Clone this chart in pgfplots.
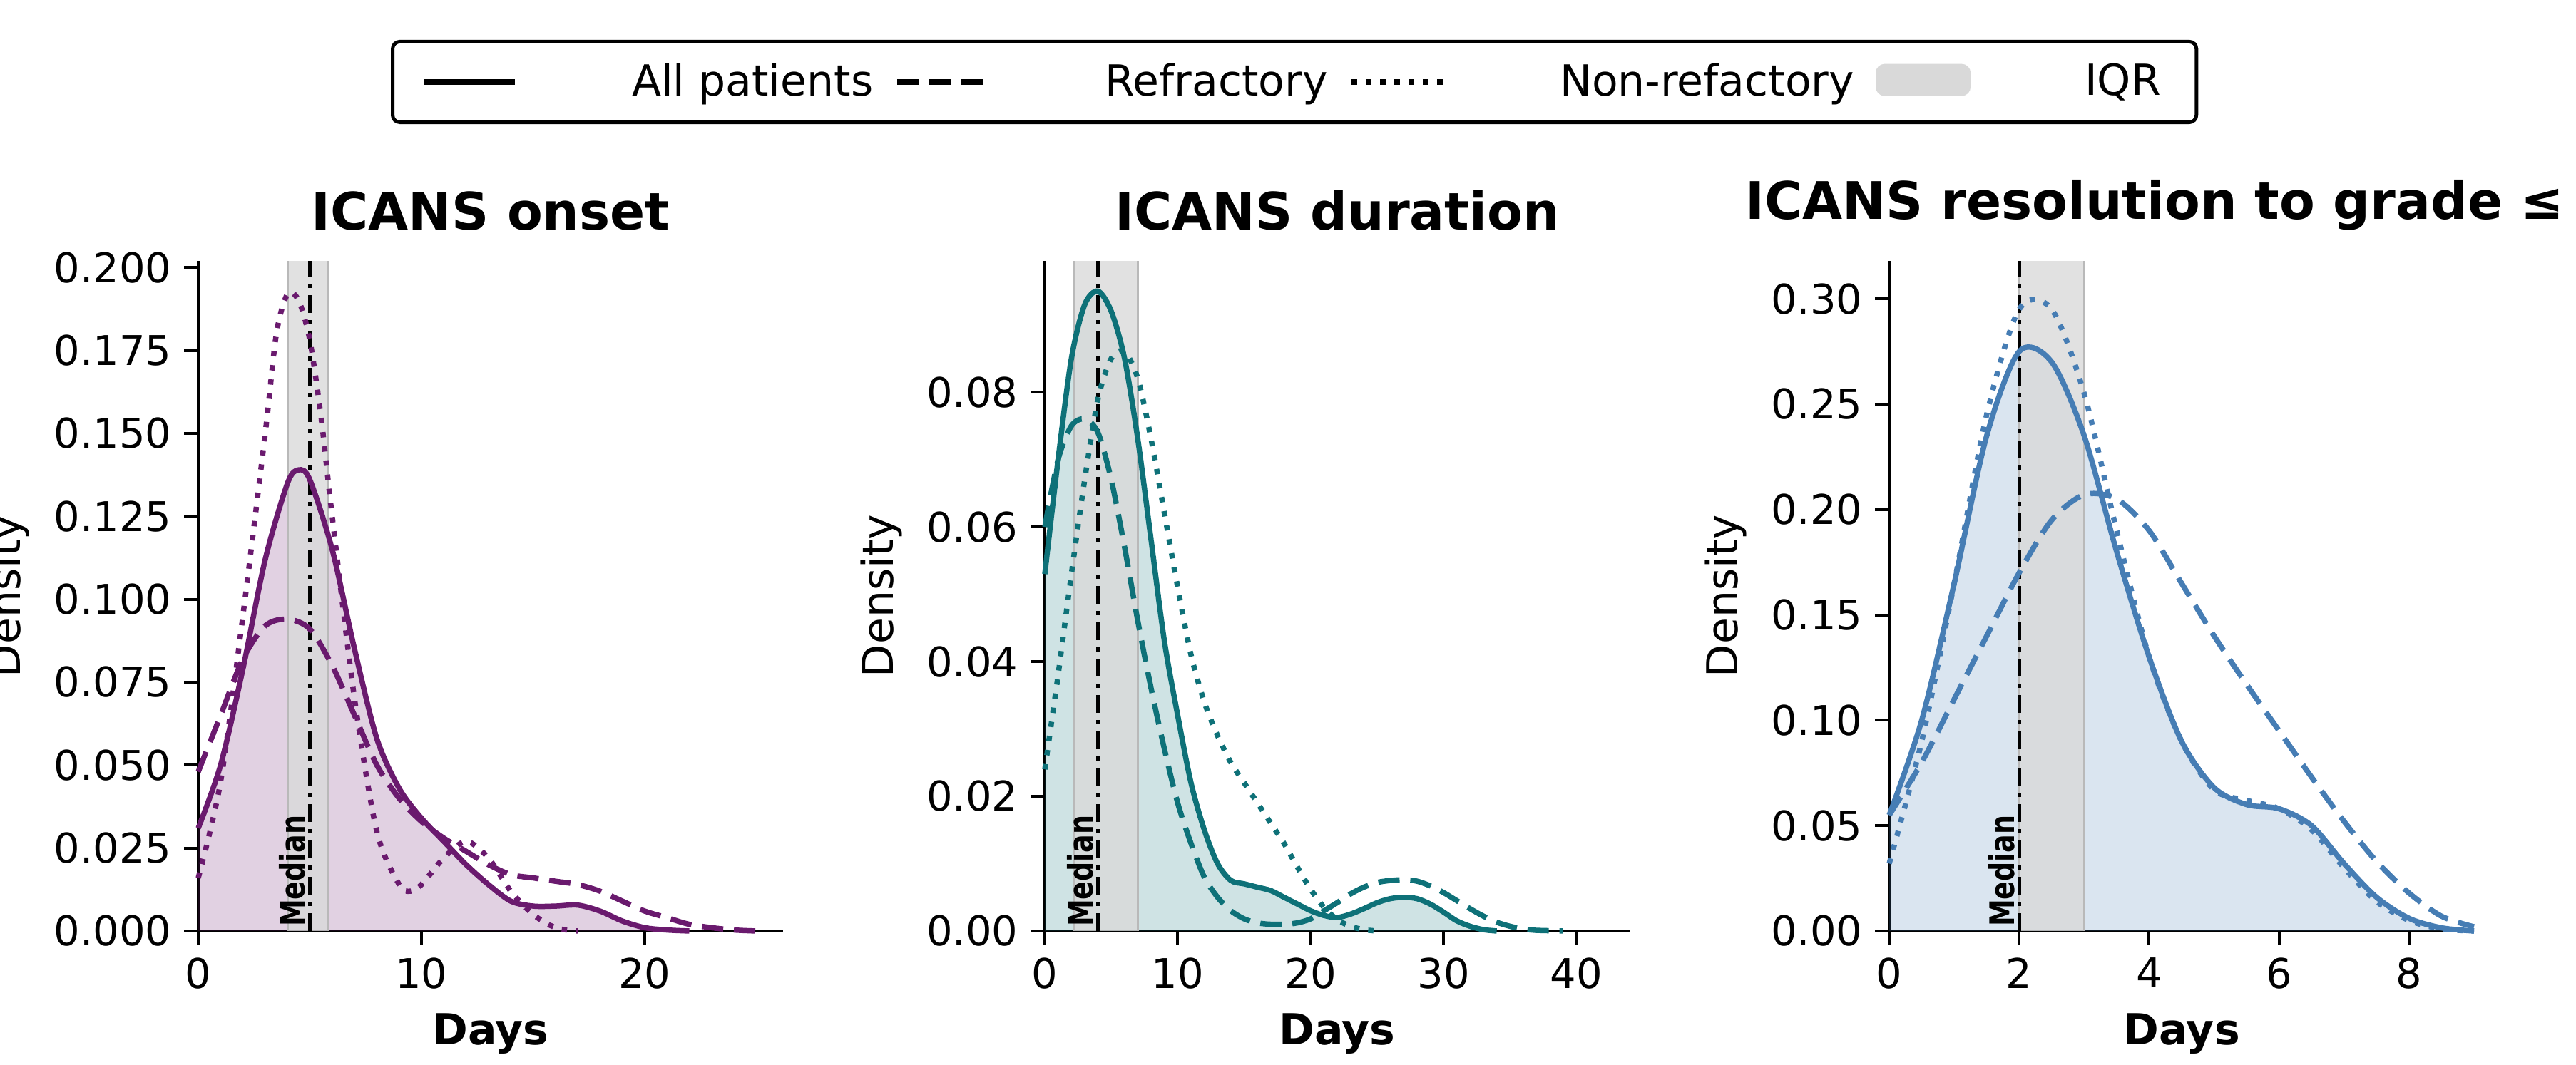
\documentclass[border=0pt]{standalone}
\usepackage{pgfplots}
\pgfplotsset{compat=1.18}
\usepackage{fontspec}
\setmainfont{DejaVu Sans}
\definecolor{cA}{RGB}{106,26,110}
\definecolor{cB}{RGB}{14,113,120}
\definecolor{cC}{RGB}{70,125,180}
\pgfplotsset{
  base/.style={scale only axis, width=164pt, height=188pt, anchor=south west,
    axis x line*=bottom, axis y line*=left, tick align=outside,
    axis line style={line width=0.9pt}, major tick length=4pt,
    tick style={black, line width=0.8pt},
    /pgf/number format/assume math mode=true,
    ticklabel style={font=\fontsize{11.5}{13}\selectfont},
    label style={font=\fontsize{12}{14}\selectfont},
    title style={font=\fontsize{14.5}{16}\selectfont\bfseries, yshift=-1pt},
    xlabel={\textbf{Days}}, ylabel={Density}, ymin=0, xmin=0,
    scaled y ticks=false, clip=false},
}
\newcommand{\med}[4]{% median, q1, q3, ymax
  \fill[gray!30, opacity=0.8] (axis cs:#2,0) rectangle (axis cs:#3,#4);
  \draw[gray!55, line width=0.6pt] (axis cs:#2,0) -- (axis cs:#2,#4) (axis cs:#3,0) -- (axis cs:#3,#4);
  \draw[black, line width=1pt, dash pattern=on 5pt off 2pt on 1.2pt off 2pt] (axis cs:#1,0) -- (axis cs:#1,#4);
  \node[rotate=90, anchor=south west, inner sep=1pt, font=\fontsize{9.5}{10}\selectfont\bfseries] at (axis cs:#1,0) {\scalebox{0.8}[1]{Median}};}
\begin{document}
\begin{tikzpicture}
% Panel 1
\begin{axis}[base, at={(55.6pt,0)}, xmax=26.2, ymax=0.202, title={ICANS onset},
  ytick={0,0.025,...,0.2}, yticklabel style={/pgf/number format/.cd,fixed,fixed zerofill,precision=3}, xtick={0,10,20}]
\addplot[fill=cA, fill opacity=0.2, draw=none, smooth] coordinates {(0,0.031)(1,0.05)(2,0.079)(3,0.112)(4,0.135)(4.5,0.139)(5,0.136)(6,0.115)(7,0.085)(8,0.058)(9,0.043)(10,0.034)(11,0.027)(12,0.020)(13,0.014)(14,0.009)(15,0.0075)(16,0.0075)(17,0.0078)(18,0.006)(19,0.003)(20,0.001)(21,0.0003)(22,0)} \closedcycle;
\med{5}{4}{5.8}{0.202}
\addplot[cA, line width=1.5pt, smooth] coordinates {(0,0.031)(1,0.05)(2,0.079)(3,0.112)(4,0.135)(4.5,0.139)(5,0.136)(6,0.115)(7,0.085)(8,0.058)(9,0.043)(10,0.034)(11,0.027)(12,0.020)(13,0.014)(14,0.009)(15,0.0075)(16,0.0075)(17,0.0078)(18,0.006)(19,0.003)(20,0.001)(21,0.0003)(22,0)};
\addplot[cA, line width=1.5pt, smooth, dash pattern=on 6pt off 3pt] coordinates {(0,0.048)(1,0.065)(2,0.082)(3,0.092)(4,0.094)(5,0.091)(6,0.08)(7,0.065)(8,0.05)(9,0.04)(10,0.033)(11,0.028)(12,0.024)(13,0.020)(14,0.017)(15,0.016)(16,0.015)(17,0.014)(18,0.012)(19,0.009)(20,0.006)(21,0.004)(22,0.002)(23,0.001)(24,0.0003)(25,0)};
\addplot[cA, line width=1.5pt, smooth, dash pattern=on 1.5pt off 2.5pt] coordinates {(0,0.016)(1,0.045)(2,0.095)(3,0.15)(3.5,0.18)(4,0.192)(4.5,0.19)(5,0.178)(5.5,0.155)(6,0.125)(7,0.07)(8,0.03)(9,0.014)(9.5,0.012)(10,0.014)(11,0.022)(12,0.027)(13,0.022)(14,0.012)(15,0.005)(16,0.001)(17,0)};
\end{axis}
% Panel 2
\begin{axis}[base, at={(293pt,0)}, xmax=44, ymax=0.0995, title={ICANS duration},
  ytick={0,0.02,...,0.081}, yticklabel style={/pgf/number format/.cd,fixed,fixed zerofill,precision=2}, xtick={0,10,20,30,40},
  legend columns=4, legend style={at={(0.427,1.267)}, anchor=center, draw=black, line width=1pt, rounded corners=2pt,
    font=\fontsize{12}{14}\selectfont, /tikz/every even column/.append style={column sep=4pt}, /tikz/every odd column/.append style={column sep=30pt}, inner xsep=8pt, inner ysep=4pt},
  legend image code/.code={\draw[#1] (0cm,0cm) -- (0.9cm,0cm);}]
\addlegendimage{black, line width=1.5pt}
\addlegendimage{black, line width=1.5pt, dash pattern=on 6pt off 3pt}
\addlegendimage{black, line width=1.5pt, dash pattern=on 1.5pt off 2.5pt}
\addlegendimage{legend image code/.code={\fill[gray!30] (0cm,-0.12cm) rectangle (0.9cm,0.16cm);}}
\legend{All patients, Refractory, Non-refactory, IQR}
\addplot[fill=cB, fill opacity=0.2, draw=none, smooth, forget plot] coordinates {(0,0.053)(1,0.07)(2,0.085)(3,0.093)(4,0.095)(5,0.092)(6,0.085)(7,0.073)(8,0.058)(9,0.043)(10,0.032)(11,0.022)(12,0.015)(13,0.010)(14,0.0075)(15,0.007)(16,0.0065)(17,0.006)(18,0.005)(19,0.004)(20,0.003)(21,0.0023)(22,0.002)(23,0.0025)(24,0.0033)(25,0.0042)(26,0.0048)(27,0.005)(28,0.0048)(29,0.004)(30,0.0028)(31,0.0015)(32,0.0007)(33,0.0002)(34,0)} \closedcycle;
\med{4}{2.2}{7}{0.0995}
\addplot[cB, line width=1.5pt, smooth, forget plot] coordinates {(0,0.053)(1,0.07)(2,0.085)(3,0.093)(4,0.095)(5,0.092)(6,0.085)(7,0.073)(8,0.058)(9,0.043)(10,0.032)(11,0.022)(12,0.015)(13,0.010)(14,0.0075)(15,0.007)(16,0.0065)(17,0.006)(18,0.005)(19,0.004)(20,0.003)(21,0.0023)(22,0.002)(23,0.0025)(24,0.0033)(25,0.0042)(26,0.0048)(27,0.005)(28,0.0048)(29,0.004)(30,0.0028)(31,0.0015)(32,0.0007)(33,0.0002)(34,0)};
\addplot[cB, line width=1.5pt, smooth, dash pattern=on 6pt off 3pt, forget plot] coordinates {(0,0.06)(1,0.07)(2,0.075)(3,0.076)(4,0.074)(5,0.067)(6,0.057)(7,0.046)(8,0.036)(9,0.027)(10,0.019)(11,0.013)(12,0.008)(13,0.005)(14,0.003)(15,0.0018)(16,0.0012)(17,0.001)(18,0.001)(19,0.0012)(20,0.0018)(21,0.003)(22,0.0042)(23,0.0055)(24,0.0065)(25,0.0072)(26,0.0075)(27,0.0076)(28,0.0074)(29,0.0067)(30,0.0057)(31,0.0045)(32,0.0033)(33,0.0022)(34,0.0013)(35,0.0007)(36,0.0003)(37,0.0001)(39,0)};
\addplot[cB, line width=1.5pt, smooth, dash pattern=on 1.5pt off 2.5pt, forget plot] coordinates {(0,0.024)(1,0.038)(2,0.053)(3,0.067)(4,0.079)(5,0.085)(6,0.086)(7,0.082)(8,0.073)(9,0.062)(10,0.051)(11,0.041)(12,0.034)(13,0.029)(14,0.025)(15,0.022)(16,0.019)(17,0.016)(18,0.013)(19,0.0095)(20,0.0062)(21,0.0035)(22,0.0017)(23,0.0007)(24,0.0002)(25,0)};
\end{axis}
% Panel 3
\begin{axis}[base, at={(529.8pt,0)}, xmax=9, ymax=0.318, title={ICANS resolution to grade ≤ 1},
  ytick={0,0.05,...,0.31}, yticklabel style={/pgf/number format/.cd,fixed,fixed zerofill,precision=2}, xtick={0,2,4,6,8}]
\addplot[fill=cC, fill opacity=0.2, draw=none, smooth] coordinates {(0,0.055)(0.5,0.1)(1,0.165)(1.5,0.235)(2,0.275)(2.5,0.27)(3,0.235)(3.5,0.18)(4,0.13)(4.5,0.09)(5,0.068)(5.5,0.06)(6,0.058)(6.5,0.05)(7,0.032)(7.5,0.016)(8,0.006)(8.5,0.0015)(9,0)} \closedcycle;
\med{2}{2}{3}{0.318}
\addplot[cC, line width=1.5pt, smooth] coordinates {(0,0.055)(0.5,0.1)(1,0.165)(1.5,0.235)(2,0.275)(2.5,0.27)(3,0.235)(3.5,0.18)(4,0.13)(4.5,0.09)(5,0.068)(5.5,0.06)(6,0.058)(6.5,0.05)(7,0.032)(7.5,0.016)(8,0.006)(8.5,0.0015)(9,0)};
\addplot[cC, line width=1.5pt, smooth, dash pattern=on 6pt off 3pt] coordinates {(0,0.055)(0.5,0.08)(1,0.11)(1.5,0.14)(2,0.17)(2.5,0.195)(3,0.207)(3.5,0.205)(4,0.19)(4.5,0.165)(5,0.14)(5.5,0.117)(6,0.095)(6.5,0.073)(7,0.052)(7.5,0.033)(8,0.018)(8.5,0.007)(9,0.002)};
\addplot[cC, line width=1.5pt, smooth, dash pattern=on 1.5pt off 2.5pt] coordinates {(0,0.032)(0.5,0.09)(1,0.165)(1.5,0.245)(2,0.295)(2.5,0.295)(3,0.255)(3.5,0.19)(4,0.13)(4.5,0.09)(5,0.067)(5.5,0.062)(6,0.058)(6.5,0.048)(7,0.03)(7.5,0.014)(8,0.005)(8.5,0.001)(9,0)};
\end{axis}
\pgfresetboundingbox
\path[use as bounding box] (0,-37.6pt) rectangle (722.4pt,261.2pt);
\end{tikzpicture}
\end{document}
